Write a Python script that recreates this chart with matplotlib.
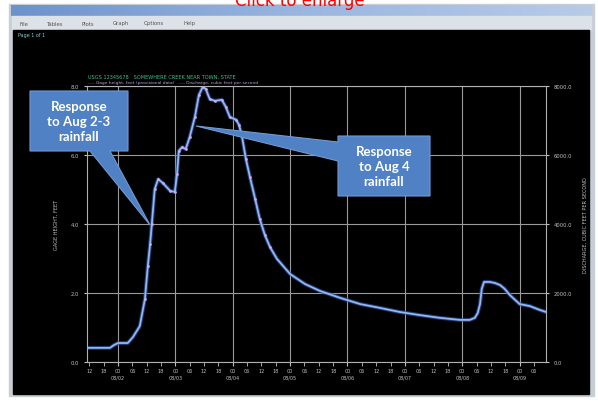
import matplotlib.pyplot as plt
import numpy as np
from matplotlib.patches import Rectangle, Polygon

# time in days since Aug 1 00:00 and gage height (ft)
days = [0.46, 0.86, 0.93, 1.00, 1.17, 1.26, 1.38, 1.47, 1.52, 1.56, 1.59, 1.64,
        1.70, 1.78, 1.91, 1.99, 2.03, 2.06, 2.12, 2.18, 2.25, 2.34, 2.41, 2.48,
        2.53, 2.60, 2.69, 2.81, 2.88, 2.95, 3.06, 3.11, 3.16, 3.23, 3.30, 3.39,
        3.47, 3.56, 3.65, 3.77, 4.00, 4.26, 4.52, 4.87, 5.22, 5.56, 5.91, 6.26,
        6.61, 6.96, 7.13, 7.22, 7.27, 7.31, 7.34, 7.38, 7.48, 7.57, 7.66, 7.74,
        7.83, 8.00, 8.18, 8.35, 8.46]
stage = [0.41, 0.41, 0.49, 0.55, 0.55, 0.72, 1.04, 1.83, 2.78, 3.42, 4.00, 5.01,
         5.30, 5.19, 4.96, 4.93, 5.45, 6.12, 6.23, 6.17, 6.52, 7.10, 7.74, 7.98,
         7.91, 7.62, 7.57, 7.60, 7.39, 7.10, 7.02, 6.87, 6.55, 5.88, 5.36, 4.73,
         4.15, 3.68, 3.33, 2.99, 2.55, 2.26, 2.06, 1.86, 1.68, 1.57, 1.45, 1.36,
         1.28, 1.22, 1.22, 1.28, 1.42, 1.68, 2.12, 2.32, 2.32, 2.29, 2.23, 2.12,
         1.94, 1.68, 1.62, 1.51, 1.45]

left_ticks = [0.0, 2.0, 4.0, 6.0, 8.0]
right_ticks = [0.0, 2000.0, 4000.0, 6000.0, 8000.0]
dates = ['08/02', '08/03', '08/04', '08/05', '08/06', '08/07', '08/08', '08/09']
menu = ['File', 'Tables', 'Plots', 'Graph', 'Options', 'Help']

fig = plt.figure(figsize=(5.98, 4.02), dpi=100)
fig.patch.set_facecolor('white')

# window chrome, in pixel coordinates
bg = fig.add_axes([0, 0, 1, 1], zorder=0)
bg.set_xlim(0, 598)
bg.set_ylim(402, 0)
bg.axis('off')
bg.add_patch(Rectangle((9, 5), 585, 392, color='#c9ced6'))
grad = np.linspace(0, 1, 256).reshape(1, -1)
bg.imshow(grad, extent=(11, 592, 17, 6), cmap=plt.matplotlib.colors.LinearSegmentedColormap.from_list(
    'tb', ['#6c92cc', '#9ab6e0', '#b7cbe8']), aspect='auto', zorder=1)
bg.add_patch(Rectangle((12, 17), 579, 13, color='#dde2e8'))
bg.add_patch(Rectangle((13, 31), 576, 364, color='black'))
bg.set_xlim(0, 598)
bg.set_ylim(402, 0)
mx = 20
for m in menu:
    bg.text(mx, 24, m, fontsize=3.8, color='#555555', va='center')
    mx += len(m) * 4.2 + 10
bg.text(18, 36, 'Page 1 of 1', fontsize=3.5, color='#7fd0d0', va='center')
bg.text(300, 1, 'Click to enlarge', fontsize=12, color='red', ha='center', va='center')
bg.text(88, 77, 'USGS 12345678   SOMEWHERE CREEK NEAR TOWN, STATE', fontsize=3.6,
        color='#3fbf8f', va='center')
bg.text(88, 83, '---- Gage height, feet (provisional data)   ---- Discharge, cubic feet per second',
        fontsize=3.2, color='#b8a0d8', va='center')

# plot area
ax = fig.add_axes([87 / 598, 1 - 363 / 402, 459 / 598, 276 / 402], zorder=1)
ax.patch.set_alpha(0)
ax.set_xlim(0.46, 8.46)
ax.set_ylim(0, 8)
ax.grid(True, color='#9a9a9a', linewidth=0.8)
for s in ax.spines.values():
    s.set_color('#b0b0b0')
ax.set_xticks(range(1, 9))
ax.set_xticklabels(['00\n' + d for d in dates])
ax.set_xticks(np.arange(0.5, 8.5, 0.25), minor=True)
minor_lab = []
for t in np.arange(0.5, 8.5, 0.25):
    h = int(round((t % 1) * 24))
    minor_lab.append('' if h == 0 else '%02d' % h)
ax.set_xticklabels(minor_lab, minor=True)
ax.tick_params(axis='x', which='both', colors='#c0c0c0', labelsize=3.5, length=3, pad=1.5)
ax.set_yticks(left_ticks)
ax.set_yticklabels(['%.1f' % v for v in left_ticks])
ax.tick_params(axis='y', colors='#c0c0c0', labelsize=3.8, length=2)
ax.set_ylabel('GAGE HEIGHT, FEET', color='#c0c0c0', fontsize=3.6, labelpad=9)

ax2 = ax.twinx()
ax2.set_ylim(0, 8000)
ax2.set_yticks(right_ticks)
ax2.set_yticklabels(['%.1f' % v for v in right_ticks])
ax2.tick_params(axis='y', colors='#c0c0c0', labelsize=3.8, length=2)
ax2.set_ylabel('DISCHARGE, CUBIC FEET PER SECOND', color='#c0c0c0', fontsize=3.6, labelpad=8)
for s in ax2.spines.values():
    s.set_visible(False)

ax.plot(days, stage, color='#2c55a8', linewidth=2.8, alpha=0.7, solid_capstyle='round')
ax.plot(days, stage, color='#93b7ee', linewidth=1.3)
sel = [i for i, d in enumerate(days) if 1.45 <= d <= 3.7]
ax.plot([days[i] for i in sel], [stage[i] for i in sel], linestyle='none',
        marker='.', markersize=1.8, color='#d8a6ea')

# callouts
fg = fig.add_axes([0, 0, 1, 1], zorder=10)
fg.patch.set_alpha(0)
fg.set_xlim(0, 598)
fg.set_ylim(402, 0)
fg.axis('off')
c1 = [(30, 92), (128, 92), (128, 152), (110, 152), (150, 226), (90, 152), (30, 152)]
c2 = [(338, 137), (430, 137), (430, 197), (338, 197), (338, 162), (196, 127), (338, 143)]
for pts in (c1, c2):
    fg.add_patch(Polygon(pts, closed=True, facecolor='#4f81c4', edgecolor='#6f9ad6',
                         linewidth=0.8))
fg.text(79, 122, 'Response\nto Aug 2-3\nrainfall', color='white', fontsize=9.5,
        family='Lato', fontweight='bold', ha='center', va='center', linespacing=1.3)
fg.text(384, 167, 'Response\nto Aug 4\nrainfall', color='white', fontsize=9.5,
        family='Lato', fontweight='bold', ha='center', va='center', linespacing=1.3)

fig.savefig('out.png', dpi=100)
